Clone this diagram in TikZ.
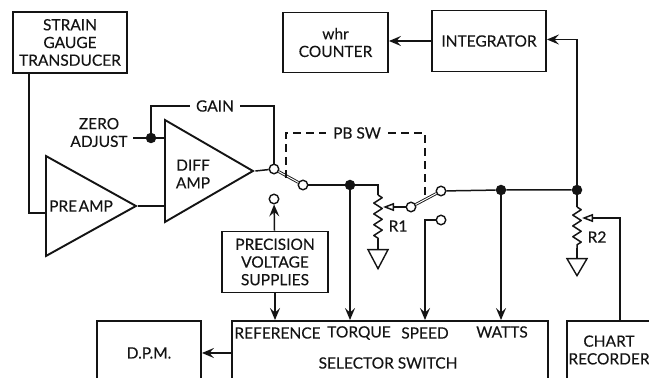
\documentclass[tikz,border=0pt]{standalone}
\usepackage{fontspec}
\setmainfont[FakeBold=0.25]{Lato}
\usetikzlibrary{shapes.geometric, arrows.meta, positioning, decorations.pathmorphing}
\definecolor{inkblack}{HTML}{141414}
\tikzstyle{block} = [
    rectangle,
    draw=inkblack,
    line width=1.9pt,
    align=center,
    text=inkblack,
    inner sep=0pt,
    font=\fontsize{15.5}{17.7}\selectfont
]
\tikzstyle{amp} = [
    isosceles triangle,
    isosceles triangle stretches,
    anchor=lower side,
    draw=inkblack,
    line width=1.9pt,
    inner sep=0pt
]
\tikzstyle{tag} = [
    align=center,
    text=inkblack,
    inner sep=0pt,
    font=\fontsize{15.5}{17.7}\selectfont
]
\tikzstyle{dot} = [circle, fill=inkblack, minimum size=10.5pt, inner sep=0pt]
\tikzstyle{contact} = [circle, draw=inkblack, fill=white, line width=1.4pt, minimum size=9.5pt, inner sep=0pt]
\tikzstyle{gnd} = [
    isosceles triangle,
    isosceles triangle stretches,
    shape border rotate=-90,
    anchor=lower side,
    draw=inkblack,
    fill=white,
    line width=1.4pt,
    minimum width=20pt,
    minimum height=19pt,
    inner sep=0pt
]
\tikzstyle{wire} = [draw=inkblack, line width=1.5pt]
\tikzstyle{arrow} = [wire, -{Stealth[length=12pt, width=10pt, inset=4.5pt]}]
\tikzstyle{wiper} = [wire, -{Triangle[open, length=11pt, width=8pt, fill=white]}]
\tikzstyle{arm} = [draw=inkblack, double=white, double distance=1pt, line width=0.9pt]
\tikzstyle{pbsw} = [wire, dash pattern=on 8pt off 5pt]
\tikzstyle{zig} = [wire, line join=round, decorate, decoration={zigzag, segment length=10.8pt, amplitude=4.2pt}]

\begin{document}
\begin{tikzpicture}[x=1pt, y=1pt, node distance=100pt]
\path[use as bounding box, clip] (0,0) rectangle (649,378);

% boxes
\node (gauge) [block, minimum width=114pt, minimum height=61pt] at (70,335.5) {STRAIN\\GAUGE\\TRANSDUCER};
\node (counter) [block, right of=gauge, xshift=165.5pt, minimum width=105pt, minimum height=60pt] {whr\\COUNTER};
\node (integrator) [block, right of=counter, xshift=53.5pt, yshift=1.5pt, minimum width=114pt, minimum height=61pt] {INTEGRATOR};
\node (supplies) [block, below of=gauge, xshift=205pt, yshift=-119.5pt, minimum width=106pt, minimum height=61pt] {PRECISION\\VOLTAGE\\SUPPLIES};
\node (dpm) [block, left of=supplies, xshift=-26pt, yshift=-91pt, minimum width=104pt, minimum height=64pt] {D.P.M.};
\node (selector) [block, right of=dpm, xshift=141pt, minimum width=316pt, minimum height=64pt] {};
\node (recorder) [block, right of=selector, xshift=129pt, yshift=-10pt, minimum width=104pt, minimum height=84pt] {};

% amplifiers
\node (preamp) [amp, minimum width=100pt, minimum height=90pt] at (45,172) {};
\node (diffamp) [amp, minimum width=102pt, minimum height=88pt] at (164,207) {};

% text
\node (pretext) [tag] at (81,172) {\spaceskip=1.5pt PRE AMP};
\node (difftext) [tag] at (193,204) {DIFF\\AMP};
\node (zero) [tag] at (99,245.5) {ZERO\\ADJUST};
\node (gain) [tag, inner xsep=6pt] at (215,272) {GAIN};
\node (pbtext) [tag, inner xsep=7pt] at (357,245) {PB SW};
\node (rone) [tag] at (398,152) {R1};
\node (rtwo) [tag] at (597,141) {R2};
\node (reference) [tag] at (277.5,45) {REFERENCE};
\node (torque) [tag] at (359,45) {TORQUE};
\node (speed) [tag] at (425,45) {SPEED};
\node (watts) [tag] at (502,46) {WATTS};
\node (switchtext) [tag] at (388,15) {SELECTOR SWITCH};
\node (chart) [tag] at (609,28) {CHART\\RECORDER};

% junctions and contacts
\node (zerodot) [dot] at (151,240) {};
\node (torquedot) [dot] at (350,193) {};
\node (wattsdot) [dot] at (501,188) {};
\node (outdot) [dot] at (577,188) {};
\node (inc) [contact] at (274,209) {};
\node (outc) [contact] at (303,193) {};
\node (refc) [contact] at (274,179) {};
\node (wipec) [contact] at (411,171) {};
\node (topc) [contact] at (441,187) {};
\node (lowc) [contact] at (441,158) {};
\node (gndone) [gnd] at (378,129) {};
\node (gndtwo) [gnd, minimum height=17pt] at (577,120) {};

\coordinate (zeroin) at (133,240);
\coordinate (oneend) at (378,183);
\coordinate (twoend) at (577,171);
\coordinate (onewiper) at (383,171);
\coordinate (twowiper) at (582,160);
\coordinate (pbleft) at (286,200);
\coordinate (pbright) at (425,178);

% wiring
\draw[wire] ([xshift=-41pt]gauge.south) |- ([yshift=-7pt]preamp.lower side);
\draw[wire] (preamp.apex) -- (preamp.apex -| diffamp.lower side);
\draw[wire] (zeroin) -- (zerodot) -- (zerodot -| diffamp.lower side);
\draw[wire] (zerodot) |- (gain.west);
\draw[wire] (gain.east) -| (inc);
\draw[wire] (diffamp.apex) -- (inc);
\draw[wire] (outc) -- (torquedot) -| (oneend);
\draw[zig] (oneend) -- ([yshift=10pt]gndone.lower side);
\draw[wire] ([yshift=10pt]gndone.lower side) -- (gndone.lower side);
\draw[wiper] (wipec) -- (onewiper);
\draw[wire] (topc) -- (wattsdot) -- (outdot);
\draw[wire] (outdot) -- (twoend);
\draw[zig] (twoend) -- ([yshift=10pt]gndtwo.lower side);
\draw[wire] ([yshift=10pt]gndtwo.lower side) -- (gndtwo.lower side);
\draw[arrow] (outdot) |- ([yshift=1.5pt]integrator.east);
\draw[arrow] (integrator.west) -- (integrator.west -| counter.east);
\draw[arrow] (torquedot) -- (torquedot |- selector.north);
\draw[arrow] (lowc) -| ([xshift=-16pt]lowc |- selector.north);
\draw[arrow] (wattsdot) -- (wattsdot |- selector.north);
\draw[arrow] (supplies) -- (refc);
\draw[arrow] (supplies.south) -- (supplies.south |- selector.north);
\draw[arrow] (selector.west) -- (selector.west -| dpm.east);
\draw[wiper] ([xshift=1pt]recorder.north) |- (twowiper);
\draw[arm] (inc) -- (outc);
\draw[arm] (wipec) -- (topc);

% push button link
\draw[pbsw] (pbleft) |- (pbtext.west);
\draw[pbsw] (pbtext.east) -| (pbright);

\end{tikzpicture}
\end{document}
